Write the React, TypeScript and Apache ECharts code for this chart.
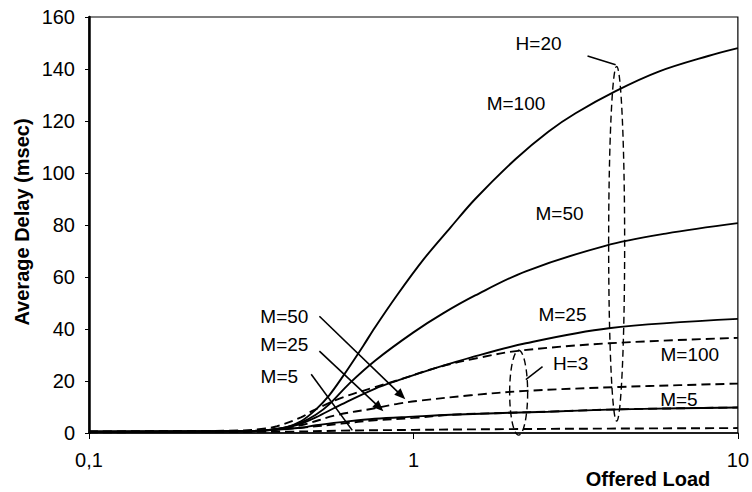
import React, { useEffect, useRef } from "react";
import * as echarts from "echarts";

// ---- data (x = offered load, y = average delay in msec) ----
const xTickValues = [0.1, 1, 10];
const yMin = 0;
const yMax = 160;
const yInterval = 20;

// H=20 (solid)
const h20M100: number[][] = [
  [0.1, 0.5], [0.3, 0.7], [0.35, 1], [0.4, 2], [0.45, 4.5], [0.5, 9], [0.55, 14.5], [0.6, 21],
  [0.7, 33.5], [0.76, 40.5], [0.89, 53], [1.07, 66.5], [1.3, 79], [1.55, 90], [2.07, 105.5],
  [2.61, 116], [3.16, 123], [4.2, 131.5], [5.7, 139], [8.1, 145], [10, 148],
];
const h20M50: number[][] = [
  [0.1, 0.5], [0.3, 0.7], [0.35, 1], [0.4, 2], [0.45, 4], [0.5, 7], [0.55, 11], [0.634, 19],
  [0.763, 27.9], [1, 38.7], [1.23, 45.9], [1.55, 52.9], [2.22, 62.2], [3.9, 72], [6, 76.7], [10, 80.7],
];
const h20M25: number[][] = [
  [0.1, 0.5], [0.3, 0.7], [0.35, 1], [0.4, 2], [0.45, 3.5], [0.5, 6], [0.6, 11], [0.76, 17],
  [0.9, 20.3], [1.2, 25.4], [1.5, 29], [2.22, 34.5], [4, 40.3], [10, 43.9],
];
const h20M5: number[][] = [
  [0.1, 0.5], [0.3, 0.7], [0.35, 1], [0.45, 2], [0.5, 3], [0.6, 4.2], [0.76, 5.5], [1, 6.3],
  [1.3, 7], [2, 7.8], [2.6, 8.2], [4, 9], [6.6, 9.5], [10, 9.8],
];
// H=3 (dashed)
const h3M100: number[][] = [
  [0.1, 0.5], [0.3, 1], [0.35, 1.8], [0.38, 2.6], [0.45, 6], [0.49, 8.6], [0.6, 13.5],
  [0.76, 17.6], [0.9, 20.4], [1.2, 25.4], [1.6, 29], [2.1, 31.6], [4, 34.5], [10, 36.6],
];
const h3M50: number[][] = [
  [0.1, 0.5], [0.3, 0.7], [0.35, 1], [0.45, 3], [0.58, 6.9], [0.76, 9.5], [0.9, 11.3],
  [1.04, 12.4], [1.5, 14.5], [2.22, 16.2], [4.3, 17.7], [6.6, 18.4], [10, 19],
];
const h3M25: number[][] = [
  [0.1, 0.5], [0.3, 0.7], [0.35, 1], [0.45, 2], [0.6, 3.6], [0.76, 4.9], [1, 5.8],
  [1.3, 7], [2, 7.8], [2.6, 8.2], [4, 9], [6.6, 9.5], [10, 9.8],
];
const h3M5: number[][] = [
  [0.1, 0.3], [0.4, 0.5], [0.6, 0.9], [1, 1.2], [2, 1.5], [4, 1.7], [10, 1.9],
];

// annotation texts placed at data coordinates
const annotationTexts: { text: string; x: number; y: number }[] = [
  { text: "H=20", x: 2.43, y: 149.7 },
  { text: "M=100", x: 2.07, y: 126.6 },
  { text: "M=50", x: 2.82, y: 84.4 },
  { text: "M=25", x: 2.88, y: 45.7 },
  { text: "M=100", x: 7.11, y: 30.3 },
  { text: "H=3", x: 3.05, y: 26.9 },
  { text: "M=5", x: 6.58, y: 13 },
  { text: "M=50", x: 0.4, y: 44.9 },
  { text: "M=25", x: 0.4, y: 34.2 },
  { text: "M=5", x: 0.386, y: 21.9 },
];
// arrows [fromX, fromY, toX, toY, head]
const arrows: [number, number, number, number, boolean][] = [
  [0.513, 44.9, 0.944, 13.0, true],
  [0.513, 31.5, 0.808, 8.4, true],
  [0.484, 22.6, 0.648, 1.0, false],
];
// leader lines
const leaders: [number, number, number, number][] = [
  [3.44, 145, 4.2, 141.6],
  [2.5, 25.5, 2.22, 20.5],
];
// ellipses [centerX, topY, bottomY]
const ellipses: [number, number, number][] = [
  [4.23, 141, 4.6],
  [2.11, 31.8, -0.8],
];

const FONT = "'Liberation Sans', Arial, Helvetica, sans-serif";

export default function App() {
  const ref = useRef<HTMLDivElement>(null);

  useEffect(() => {
    if (!ref.current) return;
    const chart = echarts.init(ref.current, null, { renderer: "svg" });

    const mk = (name: string, data: number[][], dashed: boolean) => ({
      name,
      type: "line",
      data,
      smooth: 0.35,
      showSymbol: false,
      symbol: "none",
      lineStyle: {
        color: "#000",
        width: 1.9,
        type: dashed ? [9, 5] : "solid",
      },
      z: dashed ? 3 : 4,
    });

    chart.setOption({
      animation: false,
      backgroundColor: "#fff",
      grid: {
        left: 89,
        right: 13,
        top: 17,
        bottom: 59,
        show: true,
        borderColor: "#000",
        borderWidth: 1.2,
        containLabel: false,
      },
      xAxis: {
        type: "log",
        logBase: 10,
        min: 0.1,
        max: 10,
        axisLine: { show: true, lineStyle: { color: "#000", width: 1.5 } },
        axisTick: { show: true, length: 6, lineStyle: { color: "#000" } },
        minorTick: { show: false },
        splitLine: { show: false },
        axisLabel: {
          color: "#000",
          fontFamily: FONT,
          fontSize: 20,
          margin: 17,
          formatter: (v: number) => {
            const found = xTickValues.find((t) => Math.abs(t - v) < 1e-9);
            if (found === undefined) return "";
            return String(found).replace(".", ",");
          },
        },
      },
      yAxis: {
        type: "value",
        min: yMin,
        max: yMax,
        interval: yInterval,
        axisLine: { show: true, lineStyle: { color: "#000", width: 2.5 } },
        axisTick: { show: true, length: 4, lineStyle: { color: "#000" } },
        splitLine: { show: false },
        axisLabel: {
          color: "#000",
          fontFamily: FONT,
          fontSize: 20,
          margin: 14,
        },
      },
      series: [
        mk("H=3 M=100", h3M100, true),
        mk("H=3 M=50", h3M50, true),
        mk("H=3 M=25", h3M25, true),
        mk("H=3 M=5", h3M5, true),
        mk("H=20 M=100", h20M100, false),
        mk("H=20 M=50", h20M50, false),
        mk("H=20 M=25", h20M25, false),
        mk("H=20 M=5", h20M5, false),
      ],
    });

    const p = (x: number, y: number) =>
      chart.convertToPixel({ gridIndex: 0 }, [x, y]) as number[];

    const graphics: any[] = [];
    annotationTexts.forEach((a) => {
      const [px, py] = p(a.x, a.y);
      graphics.push({
        type: "text",
        x: px,
        y: py,
        style: {
          text: a.text,
          fill: "#000",
          font: `19px ${FONT}`,
          align: "center",
          verticalAlign: "middle",
        },
        z: 10,
      });
    });
    arrows.forEach(([x1, y1, x2, y2, head]) => {
      const [ax, ay] = p(x1, y1);
      const [bx, by] = p(x2, y2);
      const dx = bx - ax;
      const dy = by - ay;
      const len = Math.hypot(dx, dy);
      const ux = dx / len;
      const uy = dy / len;
      const hl = head ? 11 : 0;
      graphics.push({
        type: "line",
        shape: { x1: ax, y1: ay, x2: bx - ux * hl * 0.8, y2: by - uy * hl * 0.8 },
        style: { stroke: "#000", lineWidth: 1.6 },
        z: 10,
      });
      if (head) {
        const bxx = bx - ux * hl;
        const byy = by - uy * hl;
        const nx = -uy * 4.5;
        const ny = ux * 4.5;
        graphics.push({
          type: "polygon",
          shape: {
            points: [
              [bx, by],
              [bxx + nx, byy + ny],
              [bxx - nx, byy - ny],
            ],
          },
          style: { fill: "#000" },
          z: 10,
        });
      }
    });
    leaders.forEach(([x1, y1, x2, y2]) => {
      const [ax, ay] = p(x1, y1);
      const [bx, by] = p(x2, y2);
      graphics.push({
        type: "line",
        shape: { x1: ax, y1: ay, x2: bx, y2: by },
        style: { stroke: "#000", lineWidth: 1.5 },
        z: 10,
      });
    });
    ellipses.forEach(([cxv, top, bottom], i) => {
      const [cx, ty] = p(cxv, top);
      const [, by] = p(cxv, bottom);
      graphics.push({
        type: "ellipse",
        shape: { cx, cy: (ty + by) / 2, rx: i === 0 ? 8 : 9, ry: (by - ty) / 2 },
        style: { stroke: "#000", fill: "none", lineWidth: 1.4, lineDash: [7, 4] },
        z: 10,
      });
    });
    // axis titles
    graphics.push({
      type: "text",
      x: 22,
      y: 222,
      rotation: Math.PI / 2,
      style: {
        text: "Average Delay (msec)",
        fill: "#000",
        font: `bold 20px ${FONT}`,
        align: "center",
        verticalAlign: "middle",
      },
      z: 10,
    });
    graphics.push({
      type: "text",
      x: 648,
      y: 479,
      style: {
        text: "Offered Load",
        fill: "#000",
        font: `bold 20px ${FONT}`,
        align: "center",
        verticalAlign: "middle",
      },
      z: 10,
    });

    chart.setOption({ graphic: graphics });

    return () => {
      chart.dispose();
    };
  }, []);

  return (
    <div
      ref={ref}
      style={{ position: "absolute", left: 0, top: 0, width: 752, height: 492, background: "#fff" }}
    />
  );
}
